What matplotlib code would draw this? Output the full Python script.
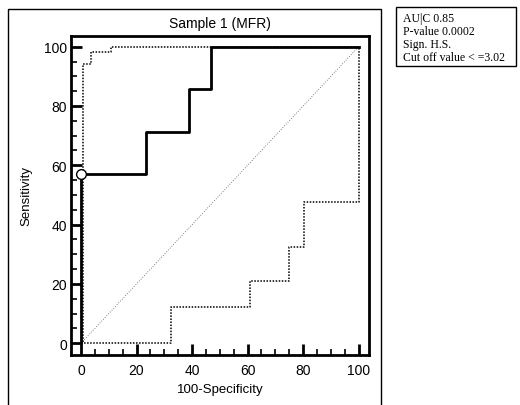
import numpy as np
import matplotlib
matplotlib.use('Agg')
import matplotlib.pyplot as plt
from matplotlib.patches import Rectangle

plt.rcParams['font.family'] = ['Liberation Sans', 'DejaVu Sans']

# ROC curve (step points) and its confidence bounds
roc_x = [0, 0, 23.5, 39, 47, 100]
roc_y = [0, 57.1, 71.4, 85.7, 100, 100]
upper_x = [0, 0.8, 3.5, 10.7, 100]
upper_y = [0, 94.2, 98.1, 100, 100]
lower_x = [0, 32.3, 60.9, 74.8, 80.3, 100]
lower_y = [0, 12.3, 21.0, 32.3, 47.8, 100]
cutoff_point = (0, 57.1)
stats_lines = ['AU|C 0.85', 'P-value 0.0002', 'Sign. H.S.', 'Cut off value < =3.02']

fig = plt.figure(figsize=(5.2, 4.06), dpi=100)
ax = fig.add_axes([0.1365, 0.1239, 0.5725, 0.7857])

# diagonal reference
ax.plot([0, 100], [0, 100], color='#555555', lw=0.6, ls=(0, (1, 2)))
# confidence bounds
ax.step(upper_x, upper_y, where='post', color='black', lw=1.1, ls=(0, (1, 1)))
ax.step(lower_x, lower_y, where='post', color='black', lw=1.1, ls=(0, (1, 1)))
# ROC
ax.step(roc_x, roc_y, where='post', color='black', lw=2.0)
ax.plot(*cutoff_point, 'o', ms=7, mfc='white', mec='black', mew=1.0, zorder=5)

ax.set_xlim(-3.6, 103.6)
ax.set_ylim(-3.85, 103.7)
ax.set_xticks(np.arange(0, 101, 20))
ax.set_yticks(np.arange(0, 101, 20))
ax.set_xticks(np.arange(0, 101, 5), minor=True)
ax.set_yticks(np.arange(0, 101, 5), minor=True)
ax.tick_params(which='major', direction='in', length=8, width=2, labelsize=10)
ax.tick_params(which='minor', direction='in', length=4, width=1.2)
ax.tick_params(axis='x', which='major', pad=6)
ax.tick_params(axis='y', which='major', pad=3)
for s in ax.spines.values():
    s.set_linewidth(2)

ax.set_title('Sample 1 (MFR)', fontsize=10, pad=6)
ax.set_xlabel('100-Specificity', fontsize=9.5, labelpad=4)
ax.set_ylabel('Sensitivity', fontsize=9.5, labelpad=8)

# outer frame around the plot
fig.patches.append(Rectangle((8 / 520, -0.05), 373 / 520, 1 - 10 / 406 + 0.05,
                             transform=fig.transFigure, fill=False,
                             edgecolor='black', lw=1.0))
# stats box
fig.patches.append(Rectangle((396 / 520, 1 - 67 / 406), 120 / 520, 59 / 406,
                             transform=fig.transFigure, fill=False,
                             edgecolor='black', lw=1.0))
fig.text(403 / 520, 1 - 13 / 406, '\n'.join(stats_lines), va='top', ha='left',
         family=['Liberation Serif'], fontsize=8.5, linespacing=1.1)

fig.savefig('out.png', dpi=100)
